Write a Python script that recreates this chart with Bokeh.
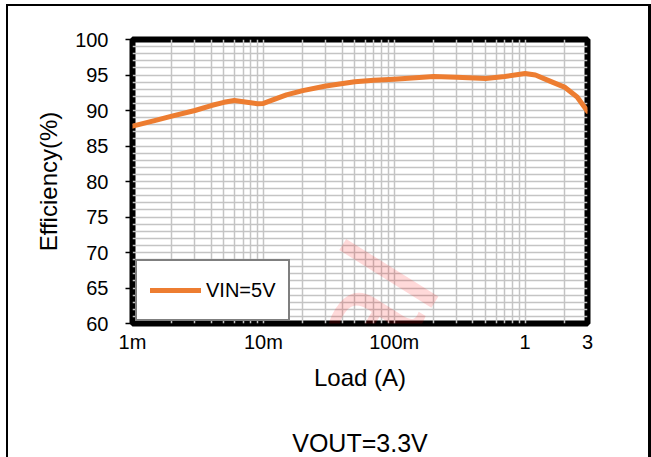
from bokeh.plotting import figure
from bokeh.models import (FixedTicker, CustomJSTickFormatter, Legend, LegendItem,
                          Label, LogAxis, Range1d)
from bokeh.embed import file_html
from bokeh.resources import INLINE

# ---- data ----
load_a = [0.001, 0.0015, 0.002, 0.003, 0.004, 0.005, 0.006, 0.008, 0.009, 0.01,
          0.015, 0.02, 0.03, 0.05, 0.07, 0.1, 0.2, 0.3, 0.5, 0.7,
          1.0, 1.2, 1.5, 2.0, 2.5, 3.0]
eff_vin5 = [87.8, 88.6, 89.2, 90.0, 90.7, 91.15, 91.4, 91.1, 90.95, 91.0,
            92.2, 92.8, 93.45, 94.05, 94.25, 94.4, 94.8, 94.7, 94.5, 94.8,
            95.2, 95.0, 94.25, 93.3, 91.9, 89.9]
series_name = "VIN=5V"

x_tick_vals = [0.001, 0.01, 0.1, 1, 3]
x_tick_labels = ["1m", "10m", "100m", "1", "3"]
y_tick_vals = [60, 65, 70, 75, 80, 85, 90, 95, 100]

FONT = "Liberation Sans"
ORANGE = "#ED7D31"

p = figure(width=645, height=453, x_axis_type="log",
           x_range=Range1d(0.001, 3), y_range=Range1d(60, 100),
           output_backend="svg", toolbar_location=None,
           min_border_left=124, min_border_right=66,
           min_border_top=33, min_border_bottom=133)
p.margin = (4, 0, 0, 6)
p.styles = {"border-top": "2px solid black",
            "border-left": "2px solid black",
            "border-right": "3px solid black"}
p.background_fill_color = "white"
p.border_fill_color = "white"
p.outline_line_color = "black"
p.outline_line_width = 6

# grid: every minor decade step on x, every 1 % on y
grid_x = [m * 10.0 ** e for e in (-3, -2, -1) for m in range(1, 10)] + [1, 2, 3]
p.xgrid.ticker = FixedTicker(ticks=grid_x)
p.ygrid.ticker = FixedTicker(ticks=list(range(60, 101)))
for g in (p.xgrid, p.ygrid):
    g.grid_line_color = "#c4c4c4"
    g.grid_line_width = 1.5

# x axis
xa = p.xaxis[0]
xa.ticker = FixedTicker(ticks=x_tick_vals)
xa.formatter = CustomJSTickFormatter(
    args=dict(vals=x_tick_vals, labels=x_tick_labels),
    code="""
    for (let i = 0; i < vals.length; i++) {
        if (Math.abs(Math.log10(tick) - Math.log10(vals[i])) < 1e-6) return labels[i];
    }
    return "";
    """)
xa.axis_label = "Load (A)"
xa.axis_line_color = None
xa.major_tick_out = 0
xa.major_tick_in = 0
xa.minor_tick_out = 0
xa.minor_tick_in = 0
xa.major_label_standoff = 7
xa.axis_label_standoff = 8

# y axis
ya = p.yaxis[0]
ya.ticker = FixedTicker(ticks=y_tick_vals)
ya.axis_label = "Efficiency(%)"
ya.axis_line_color = None
ya.major_tick_out = 7
ya.major_tick_in = 0
ya.major_tick_line_color = "black"
ya.major_tick_line_width = 1.5
ya.minor_tick_out = 0
ya.minor_tick_in = 0
ya.major_label_standoff = 17
ya.axis_label_standoff = 10

for ax in (xa, ya):
    ax.major_label_text_font = FONT
    ax.major_label_text_font_size = "20px"
    ax.major_label_text_color = "black"
    ax.axis_label_text_font = FONT
    ax.axis_label_text_font_size = "24px"
    ax.axis_label_text_font_style = "normal"
    ax.axis_label_text_color = "black"

# caption below the x axis title (a tick-less second axis)
cap = LogAxis(ticker=FixedTicker(ticks=[]), axis_label="VOUT=3.3V",
              axis_line_color=None, major_tick_out=0, major_tick_in=0,
              minor_tick_out=0, minor_tick_in=0, major_label_standoff=0,
              axis_label_standoff=35,
              axis_label_text_font=FONT, axis_label_text_font_size="25px",
              axis_label_text_font_style="normal", axis_label_text_color="black")
p.add_layout(cap, "below")

# curve
r = p.line(load_a, eff_vin5, line_color=ORANGE, line_width=5,
           line_join="round", line_cap="round")

legend = Legend(items=[LegendItem(label=series_name, renderers=[r])],
                location=(3, 2), margin=0, padding=13, spacing=0,
                glyph_width=51, glyph_height=32, label_height=32,
                label_standoff=5,
                label_text_font=FONT, label_text_font_size="20px",
                label_text_color="black",
                border_line_color="black", border_line_width=2,
                background_fill_color="white", background_fill_alpha=1)
p.add_layout(legend)

# watermark (only the part inside the plot area shows)
p.add_layout(Label(x=267, y=63, x_units="screen", y_units="screen",
                   text="Confidential", angle=58, angle_units="deg",
                   text_align="right", text_baseline="alphabetic",
                   text_font=FONT, text_font_size="150px",
                   text_color="red", text_alpha=0.15))

open("out.html", "w").write(file_html(p, INLINE))
